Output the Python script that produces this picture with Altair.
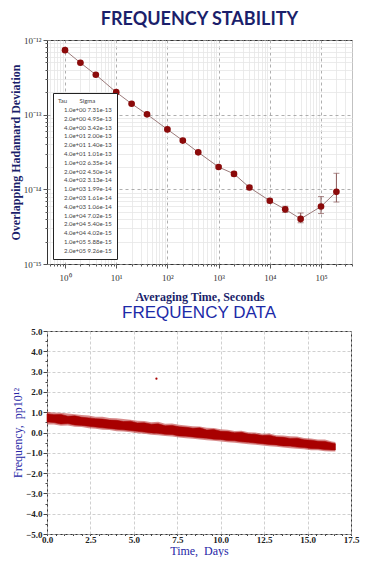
import altair as alt
import pandas as pd

# ---------------- top chart data (Overlapping Hadamard Deviation) ----------------
tau = [1, 2, 4, 10, 20, 40, 100, 200, 400, 1000, 2000, 4000,
       10000, 20000, 40000, 100000, 200000]
sigma = [7.31e-13, 4.95e-13, 3.42e-13, 2.00e-13, 1.40e-13, 1.01e-13,
         6.35e-14, 4.50e-14, 3.13e-14, 1.99e-14, 1.61e-14, 1.06e-14,
         7.02e-15, 5.40e-15, 4.02e-15, 5.88e-15, 9.26e-15]
err_lo = [7.24e-13, 4.89e-13, 3.37e-13, 1.96e-13, 1.37e-13, 9.8e-14,
          6.15e-14, 4.33e-14, 2.99e-14, 1.89e-14, 1.51e-14, 9.9e-15,
          6.6e-15, 4.9e-15, 3.56e-15, 4.74e-15, 6.76e-15]
err_hi = [7.38e-13, 5.01e-13, 3.47e-13, 2.04e-13, 1.43e-13, 1.04e-13,
          6.55e-14, 4.67e-14, 3.27e-14, 2.09e-14, 1.71e-14, 1.13e-14,
          7.44e-15, 5.94e-15, 4.82e-15, 8.0e-15, 1.64e-14]

x_ticks = [0.5, 0.6, 0.7, 0.8, 0.9] + [k * 10 ** e for e in range(0, 5) for k in range(1, 10)] + [1e5, 2e5, 3e5, 4e5]
y_ticks = [k * 10.0 ** e for e in (-15, -14, -13) for k in range(1, 10)] + [1e-12]
x_sup = {0: "10⁰", 1: "10¹", 2: "10²", 3: "10³", 4: "10⁴", 5: "10⁵"}
y_sup = {-12: "10⁻¹²", -13: "10⁻¹³", -14: "10⁻¹⁴", -15: "10⁻¹⁵"}

# ---------------- bottom chart data (frequency band) ----------------
t_days = [0.0, 0.4, 0.8, 1.2, 1.6, 2.0, 2.4, 2.8, 3.2, 3.6, 4.0, 4.4, 4.8, 5.2,
          5.6, 6.0, 6.4, 6.8, 7.2, 7.6, 8.0, 8.4, 8.8, 9.2, 9.6, 10.0, 10.4,
          10.8, 11.2, 11.6, 12.0, 12.4, 12.8, 13.2, 13.6, 14.0, 14.4, 14.8,
          15.2, 15.6, 16.0, 16.4, 16.6]
f_hi = [0.92, 0.88, 0.89, 0.80, 0.82, 0.75, 0.72, 0.68, 0.66, 0.61, 0.60,
        0.54, 0.56, 0.47, 0.48, 0.41, 0.43, 0.33, 0.35, 0.28, 0.26, 0.21,
        0.23, 0.12, 0.15, 0.06, 0.05, -0.01, 0.01, -0.08, -0.09, -0.15,
        -0.13, -0.22, -0.24, -0.29, -0.28, -0.36, -0.38, -0.43, -0.44,
        -0.52, -0.55]
f_lo = [0.52, 0.49, 0.42, 0.44, 0.37, 0.35, 0.31, 0.27, 0.23, 0.20, 0.16,
        0.13, 0.10, 0.06, 0.02, -0.02, -0.04, -0.09, -0.10, -0.17, -0.18,
        -0.22, -0.26, -0.28, -0.33, -0.34, -0.40, -0.41, -0.46, -0.48,
        -0.52, -0.55, -0.59, -0.61, -0.66, -0.67, -0.72, -0.74, -0.79,
        -0.80, -0.84, -0.86, -0.86]
spike_hi = [1.02, 0.99, 0.97, 0.93, 0.90, 0.86, 0.84, 0.77, 0.78, 0.71, 0.70,
            0.66, 0.63, 0.58, 0.57, 0.50, 0.53, 0.43, 0.44, 0.38, 0.35, 0.31,
            0.30, 0.23, 0.22, 0.16, 0.14, 0.08, 0.09, 0.01, 0.00, -0.06,
            -0.05, -0.13, -0.15, -0.19, -0.20, -0.27, -0.29, -0.34, -0.35,
            -0.44, -0.47]
spike_lo = [0.40, 0.40, 0.33, 0.34, 0.28, 0.27, 0.21, 0.19, 0.14, 0.12, 0.06,
            0.05, 0.01, -0.04, -0.06, -0.11, -0.14, -0.17, -0.20, -0.25, -0.28,
            -0.31, -0.35, -0.38, -0.41, -0.44, -0.48, -0.51, -0.54, -0.58,
            -0.60, -0.64, -0.68, -0.70, -0.74, -0.77, -0.80, -0.83, -0.87,
            -0.88, -0.92, -0.93, -0.93]
out_t = [6.3]
out_f = [2.65]

# ---------------- build data frames ----------------
labels = [f"{t:.1e} {s:.2e}" for t, s in zip(tau, sigma)]
df_top = pd.DataFrame({"tau": tau, "sigma": sigma, "lo": err_lo, "hi": err_hi, "label": labels})
df_band = pd.DataFrame({"t": t_days, "hi": f_hi, "lo": f_lo, "shi": spike_hi, "slo": spike_lo})
df_out = pd.DataFrame({"t": out_t, "f": out_f})

SERIF = "Liberation Serif"
NAVY = "#1b1f6b"
BLUE = "#2626a6"
RED = "#8b0a0a"
BAND = "#a80000"

LOG10 = "(log(datum.value)/LN10)"
DEC = f"(abs({LOG10} - round({LOG10})) < 1e-6)"


def sup_expr(mapping):
    expr = "''"
    for e, s in mapping.items():
        expr = f"(round({LOG10}) == {e} ? '{s}' : {expr})"
    return f"{DEC} ? {expr} : ''"


grid_color_top = {"condition": {"test": DEC, "value": "#9a9a9a"}, "value": "#e6e6e6"}
grid_dash_top = {"condition": {"test": DEC, "value": [3, 3]}, "value": []}
tick_size_top = {"condition": {"test": DEC, "value": 4}, "value": 2}

x_axis_top = alt.Axis(
    values=x_ticks, labelExpr=sup_expr(x_sup), grid=True,
    gridColor=grid_color_top, gridDash=grid_dash_top, gridWidth=0.8,
    tickSize=tick_size_top, tickColor="#555", domain=False,
    labelFont=SERIF, labelFontSize=9, labelColor="#333", labelPadding=5,
    labelFlush=False, labelOverlap=False,
    title="Averaging Time, Seconds", titleFont=SERIF, titleFontSize=12,
    titleFontWeight="bold", titleColor=NAVY, titlePadding=9,
)
y_axis_top = alt.Axis(
    values=y_ticks, labelExpr=sup_expr(y_sup), grid=True,
    gridColor=grid_color_top, gridDash=grid_dash_top, gridWidth=0.8,
    tickSize=tick_size_top, tickColor="#555", domain=False,
    labelFont=SERIF, labelFontSize=9, labelColor="#333", labelPadding=2,
    labelFlush=False, labelOverlap=False,
    title="Overlapping Hadamard Deviation", titleFont=SERIF, titleFontSize=12,
    titleFontWeight="bold", titleColor=NAVY, titlePadding=1,
)

xs = alt.Scale(type="log", domain=[0.445, 4.03e5], nice=False)
ys = alt.Scale(type="log", domain=[1e-15, 1e-12], nice=False)

base = alt.Chart(df_top)
X = alt.X("tau:Q", scale=xs, axis=x_axis_top)
Y = alt.Y("sigma:Q", scale=ys, axis=y_axis_top)

err = base.mark_errorbar(ticks=True, size=6, thickness=1, color="#8a5a5a").encode(
    x=X, y=alt.Y("lo:Q", scale=ys, axis=y_axis_top), y2="hi:Q")
line = base.mark_line(color="#9c7b7b", strokeWidth=1).encode(x=X, y=Y)
pts = base.mark_circle(size=44, color=RED, opacity=1).encode(x=X, y=Y)
leg = base.mark_point(opacity=0).encode(
    x=X, y=Y,
    shape=alt.Shape("label:N", sort=labels,
                    scale=alt.Scale(domain=labels, range=["circle"] * len(labels)),
                    legend=alt.Legend(
                        title="\u00a0Tau\u00a0\u00a0\u00a0\u00a0\u00a0\u00a0\u00a0\u00a0Sigma",
                        orient="none", legendX=6, legendY=53,
                        fillColor="white", strokeColor="#222", padding=5,
                        titleFont="Lato", titleFontSize=6, titleFontWeight="normal",
                        titleColor="#444", titlePadding=3,
                        labelFont="Lato", labelFontSize=6, labelColor="#444",
                        labelOffset=0, symbolSize=0, symbolOpacity=0,
                        symbolStrokeWidth=0, rowPadding=2.8,
                    )),
)

top = alt.layer(err, line, pts, leg).properties(
    width=305, height=224,
    title=alt.TitleParams("FREQUENCY STABILITY", font="Lato", fontSize=18,
                          fontWeight="bold", color=NAVY, anchor="middle", offset=7),
)

# ---------------- bottom chart ----------------
bx_ticks = [i * 0.5 for i in range(0, 36)]
by_ticks = [i * 0.5 - 5 for i in range(0, 21)]
BXMAJ = "(abs(datum.value/2.5 - round(datum.value/2.5)) < 1e-6)"
BYMAJ = "(abs(datum.value - round(datum.value)) < 1e-6)"

x_axis_bot = alt.Axis(
    values=bx_ticks, labelExpr=f"{BXMAJ} ? format(datum.value, '.1f') : ''",
    grid=True, gridColor="#c4c4c4", gridDash=[3, 2], gridWidth=0.8,
    gridOpacity={"condition": {"test": BXMAJ, "value": 1}, "value": 0},
    tickSize=1.5,
    tickColor="#444", domain=False,
    labelFont=SERIF, labelFontSize=9, labelFontWeight="bold", labelColor="#222",
    labelPadding=0, labelFlush=False, labelOverlap=False,
    title="Time,\u00a0\u00a0Days", titleFont=SERIF, titleFontSize=12,
    titleFontWeight="normal", titleColor=BLUE, titlePadding=1,
)
y_axis_bot = alt.Axis(
    values=by_ticks, labelExpr=f"{BYMAJ} ? format(datum.value, '.1f') : ''",
    grid=True, gridColor="#c4c4c4", gridDash=[3, 2], gridWidth=0.8,
    gridOpacity={"condition": {"test": BYMAJ, "value": 1}, "value": 0},
    tickSize={"condition": {"test": BYMAJ, "value": 4}, "value": 2},
    tickColor="#444", domain=False,
    labelFont=SERIF, labelFontSize=9, labelFontWeight="bold", labelColor="#222",
    labelPadding=1, labelFlush=False, labelOverlap=False,
    title="Frequency,\u00a0 pp10¹²", titleFont=SERIF, titleFontSize=12,
    titleFontWeight="normal", titleColor=BLUE, titlePadding=1,
)
bxs = alt.Scale(domain=[0, 17.5], nice=False)
bys = alt.Scale(domain=[-5, 5], nice=False)
BX = alt.X("t:Q", scale=bxs, axis=x_axis_bot)

spikes = alt.Chart(df_band).mark_area(color=BAND, opacity=0.45).encode(
    x=BX, y=alt.Y("shi:Q", scale=bys, axis=y_axis_bot), y2="slo:Q")
band = alt.Chart(df_band).mark_area(color=BAND, stroke=BAND, strokeWidth=0.6, opacity=1).encode(
    x=BX, y=alt.Y("hi:Q", scale=bys, axis=y_axis_bot), y2="lo:Q")
outl = alt.Chart(df_out).mark_circle(size=5, color=BAND, opacity=1).encode(
    x=BX, y=alt.Y("f:Q", scale=bys, axis=y_axis_bot))

bottom = alt.layer(spikes, band, outl).properties(
    width=304, height=203,
    title=alt.TitleParams("FREQUENCY DATA", font="Liberation Sans", fontSize=17,
                          fontWeight="normal", color="#1c2aa8", anchor="middle", offset=5),
)

chart = alt.vconcat(top, bottom, spacing=0).properties(
    padding={"left": 0, "top": 2, "right": 0, "bottom": 0}
).configure_view(stroke="#333", strokeWidth=1, fill="white")

chart.save("out.html", embed_options={"renderer": "svg", "actions": False})
